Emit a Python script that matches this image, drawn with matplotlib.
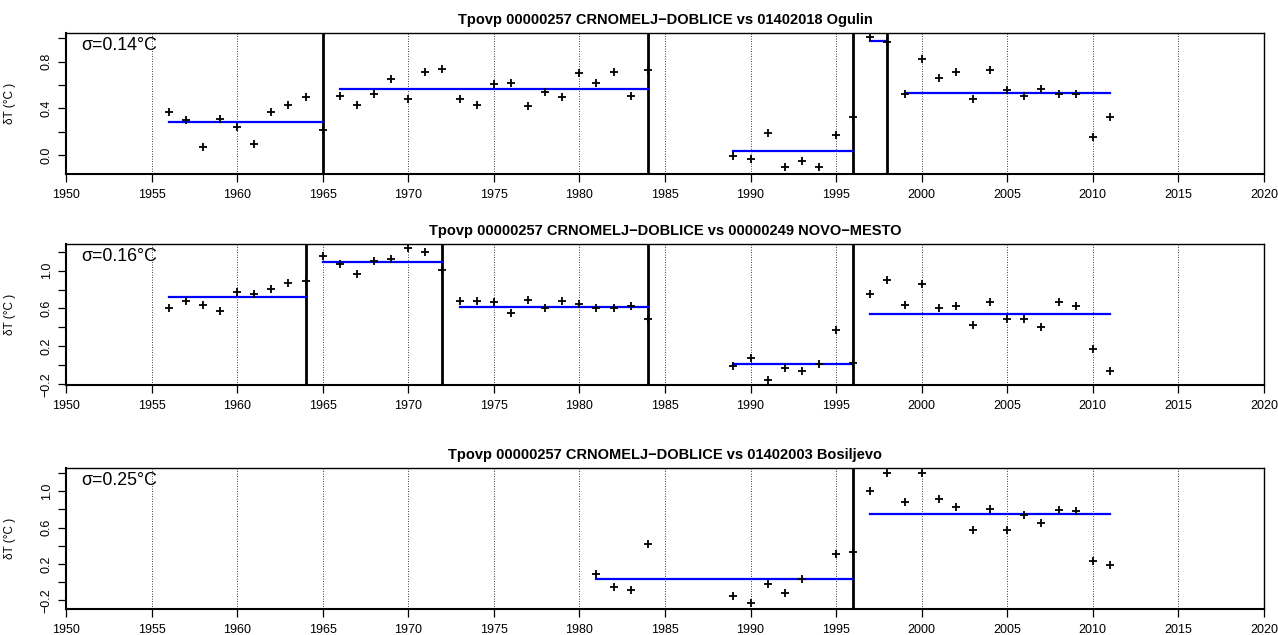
import numpy as np
import matplotlib.pyplot as plt

plt.rcParams['font.family'] = ['Liberation Sans', 'DejaVu Sans']

# ---- panel 1: vs 01402018 Ogulin
years_1 = [1956, 1957, 1958, 1959, 1960, 1961, 1962, 1963, 1964, 1965,
           1966, 1967, 1968, 1969, 1970, 1971, 1972, 1973, 1974, 1975,
           1976, 1977, 1978, 1979, 1980, 1981, 1982, 1983, 1984,
           1989, 1990, 1991, 1992, 1993, 1994, 1995, 1996,
           1997, 1998, 1999, 2000, 2001, 2002, 2003, 2004, 2005,
           2006, 2007, 2008, 2009, 2010, 2011]
dt_1 = [0.37, 0.30, 0.07, 0.31, 0.24, 0.10, 0.37, 0.43, 0.50, 0.22,
        0.51, 0.43, 0.52, 0.65, 0.48, 0.71, 0.74, 0.48, 0.43, 0.61,
        0.62, 0.42, 0.54, 0.50, 0.70, 0.62, 0.71, 0.51, 0.73,
        -0.01, -0.03, 0.19, -0.10, -0.05, -0.10, 0.17, 0.33,
        1.01, 0.97, 0.52, 0.82, 0.66, 0.71, 0.48, 0.73, 0.56,
        0.51, 0.57, 0.52, 0.52, 0.16, 0.33]
breaks_1 = [1965, 1984, 1996, 1998]
seg_start_1 = [1956, 1966, 1989, 1997, 1999]
seg_end_1 = [1965, 1984, 1996, 1998, 2011]
seg_mean_1 = [0.282, 0.564, 0.037, 0.977, 0.535]

# ---- panel 2: vs 00000249 NOVO-MESTO
years_2 = [1956, 1957, 1958, 1959, 1960, 1961, 1962, 1963, 1964,
           1965, 1966, 1967, 1968, 1969, 1970, 1971, 1972,
           1973, 1974, 1975, 1976, 1977, 1978, 1979, 1980, 1981, 1982, 1983, 1984,
           1989, 1990, 1991, 1992, 1993, 1994, 1995, 1996,
           1997, 1998, 1999, 2000, 2001, 2002, 2003, 2004, 2005,
           2006, 2007, 2008, 2009, 2010, 2011]
dt_2 = [0.60, 0.68, 0.64, 0.57, 0.77, 0.75, 0.81, 0.87, 0.89,
        1.15, 1.07, 0.96, 1.10, 1.12, 1.24, 1.20, 1.01,
        0.68, 0.68, 0.67, 0.55, 0.69, 0.60, 0.68, 0.65, 0.60, 0.60, 0.63, 0.49,
        -0.01, 0.08, -0.15, -0.03, -0.06, 0.01, 0.37, 0.03,
        0.75, 0.90, 0.64, 0.86, 0.60, 0.63, 0.43, 0.67, 0.49,
        0.49, 0.40, 0.67, 0.63, 0.17, -0.06]
breaks_2 = [1964, 1972, 1984, 1996]
seg_start_2 = [1956, 1965, 1973, 1989, 1997]
seg_end_2 = [1964, 1972, 1984, 1996, 2011]
seg_mean_2 = [0.719, 1.091, 0.613, 0.018, 0.539]

# ---- panel 3: vs 01402003 Bosiljevo
years_3 = [1981, 1982, 1983, 1984, 1989, 1990, 1991, 1992, 1993, 1995, 1996,
           1997, 1998, 1999, 2000, 2001, 2002, 2003, 2004, 2005,
           2006, 2007, 2008, 2009, 2010, 2011]
dt_3 = [0.09, -0.05, -0.09, 0.42, -0.15, -0.23, -0.02, -0.12, 0.04, 0.31, 0.33,
        1.00, 1.20, 0.88, 1.20, 0.91, 0.83, 0.57, 0.80, 0.57,
        0.74, 0.65, 0.79, 0.78, 0.23, 0.19]
breaks_3 = [1996]
seg_start_3 = [1981, 1997]
seg_end_3 = [1996, 2011]
seg_mean_3 = [0.036, 0.745]

titles = ['Tpovp 00000257 CRNOMELJ\u2212DOBLICE vs 01402018 Ogulin',
          'Tpovp 00000257 CRNOMELJ\u2212DOBLICE vs 00000249 NOVO\u2212MESTO',
          'Tpovp 00000257 CRNOMELJ\u2212DOBLICE vs 01402003 Bosiljevo']
sigmas = [0.14, 0.16, 0.25]
ylims = [(-0.16, 1.045), (-0.207, 1.28), (-0.29, 1.255)]
yticks = [[0.0, 0.2, 0.4, 0.6, 0.8, 1.0],
          [-0.2, 0.0, 0.2, 0.4, 0.6, 0.8, 1.0, 1.2],
          [-0.2, 0.0, 0.2, 0.4, 0.6, 0.8, 1.0, 1.2]]
ylabels_shown = [[0.0, 0.4, 0.8],
                 [-0.2, 0.2, 0.6, 1.0],
                 [-0.2, 0.2, 0.6, 1.0]]

panels = [(years_1, dt_1, breaks_1, seg_start_1, seg_end_1, seg_mean_1),
          (years_2, dt_2, breaks_2, seg_start_2, seg_end_2, seg_mean_2),
          (years_3, dt_3, breaks_3, seg_start_3, seg_end_3, seg_mean_3)]

fig = plt.figure(figsize=(12.78, 6.35), dpi=100)
bottoms = [0.726, 0.3937, 0.0414]

for i, (yrs, dt, brk, s0, s1, mu) in enumerate(panels):
    ax = fig.add_axes([0.0516, bottoms[i], 0.9374, 0.222])

    # dotted grid every 5 years
    for g in range(1955, 2020, 5):
        ax.axvline(g, color='black', ls=(0, (1, 2)), lw=0.6, zorder=1)

    # break points
    for b in brk:
        ax.axvline(b, color='black', lw=2.0, zorder=2)

    # segment means
    for a, e, m in zip(s0, s1, mu):
        ax.plot([a, e], [m, m], color='blue', lw=1.6, zorder=3)

    ax.plot(yrs, dt, ls='none', marker='+', color='black', ms=6, mew=1.3, zorder=4)

    ax.set_xlim(1950, 2020)
    ax.set_ylim(*ylims[i])
    ax.set_xticks(range(1950, 2021, 5))
    ax.set_yticks(yticks[i])
    labs = []
    for v in yticks[i]:
        if any(abs(v - w) < 1e-9 for w in ylabels_shown[i]):
            labs.append(f'{v:.1f}'.replace('-', '\u2212'))
        else:
            labs.append('')
    ax.set_yticklabels(labs, rotation=90, va='center')
    ax.tick_params(axis='both', labelsize=9, length=5.5, width=0.9, direction='out')
    ax.tick_params(axis='x', pad=5.5)
    ax.tick_params(axis='y', pad=4)

    for sp in ax.spines.values():
        sp.set_linewidth(1.0)
    ax.spines['left'].set_linewidth(1.5)
    ax.spines['bottom'].set_linewidth(1.5)

    ax.set_ylabel('\u03b4T (\u00b0C )', fontsize=8.5)
    ax.yaxis.set_label_coords(-0.042, 0.5)
    ax.set_title(titles[i], fontsize=10.5, fontweight='bold', pad=6.5)
    ax.text(0.013, 0.97, f'\u03c3={sigmas[i]:.2f}\u00b0C', transform=ax.transAxes,
            fontsize=12.8, va='top', ha='left', zorder=5)

fig.savefig('out.png', dpi=100)
